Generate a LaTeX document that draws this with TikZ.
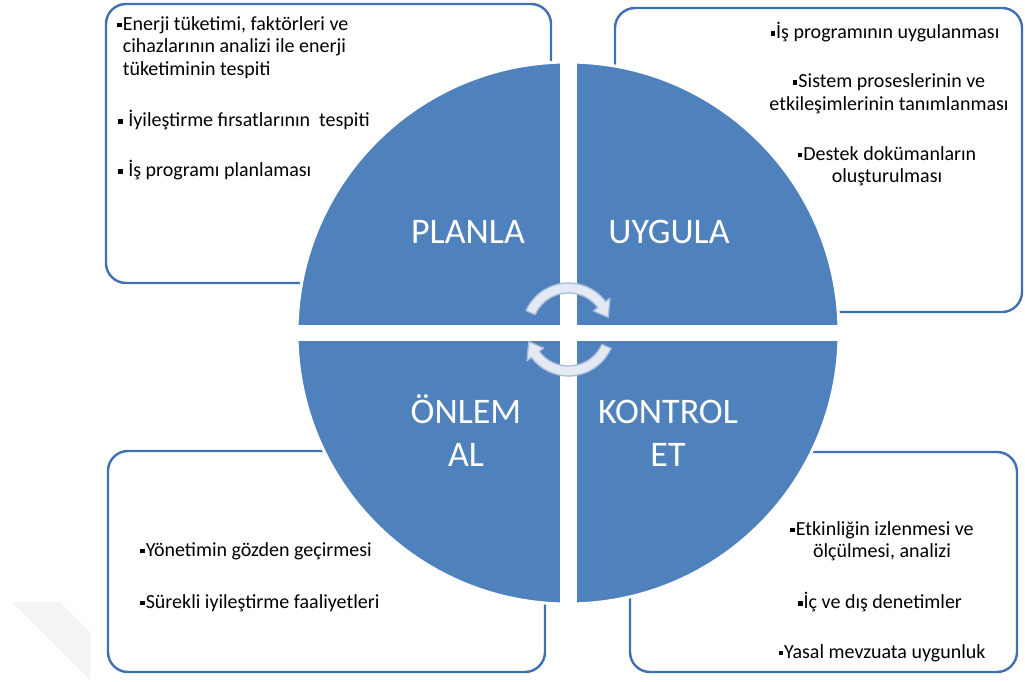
\documentclass[tikz,border=0pt]{standalone}
\usepackage{fontspec}
\setmainfont{Carlito}
\newcommand{\bl}{\raisebox{0.3ex}{\rule{0.22em}{0.22em}}\hspace{0.06em}}
\definecolor{pdcablue}{RGB}{79,129,189}
\definecolor{boxline}{RGB}{64,112,180}
\definecolor{arrfill}{RGB}{228,234,243}
\definecolor{arrline}{RGB}{170,189,216}
\begin{document}
\begin{tikzpicture}[x=1pt,y=1pt,
  infobox/.style={draw=boxline, line width=2.4pt, rounded corners=20pt},
  boxtxt/.style={font=\fontsize{20}{22.5}\selectfont, text=black, inner sep=0pt},
  lbl/.style={font=\fontsize{36}{43}\selectfont, text=white, inner sep=0pt, align=center},
  cyclearrow/.style={fill=arrfill, draw=arrline, line width=1.3pt, line join=round}]
\fill[white] (0,0) rectangle (1025,681);
\useasboundingbox (0,0) rectangle (1025,681);
% faint shadow
\fill[gray!9] (12,79) -- (60,79) -- (90,49) -- (90,1) -- cycle;
% boxes
\draw[infobox] (106,677) rectangle (551,398);
\draw[infobox] (615,673) rectangle (1022,369);
\draw[infobox] (108,230) rectangle (545,9);
\draw[infobox] (630,229) rectangle (1017,9);
% circle
\path[fill=pdcablue, draw=white, line width=3pt] (568,348) circle[radius=271];
\fill[white] (560,70) rectangle (576.5,625);
\fill[white] (290,340.5) rectangle (846,356);
% cycle arrows
\begin{scope}[shift={(568.5,351.5)}]
\draw[cyclearrow] (156:46.5) arc[start angle=156, end angle=37, radius=46.5] -- (37:52) -- (17:41.5) -- (37:31) -- (37:36.5) arc[start angle=37, end angle=156, radius=36.5] -- cycle;
\draw[cyclearrow, rotate=180] (156:46.5) arc[start angle=156, end angle=37, radius=46.5] -- (37:52) -- (17:41.5) -- (37:31) -- (37:36.5) arc[start angle=37, end angle=156, radius=36.5] -- cycle;
\end{scope}
% labels
\node[lbl] (plan) at (468,449) {PLANLA};
\node[lbl] (uyg) at (669,449) {UYGULA};
\node[lbl] (onl) at (466,250.5) {ÖNLEM\\AL};
\node[lbl] (kon) at (668,247.5) {KONTROL\\ET};
% top-left texts
\node[boxtxt, anchor=west, align=left] (pl1) at (117,633.5) {\bl Enerji tüketimi, faktörleri ve\\\phantom{\bl}cihazlarının analizi ile enerji\\\phantom{\bl}tüketiminin tespiti};
\node[boxtxt, anchor=west] (pl2) at (118,561) {\bl\ İyileştirme fırsatlarının\ \ tespiti};
\node[boxtxt, anchor=west] (pl3) at (118,511) {\bl\ İş programı planlaması};
% top-right texts
\node[boxtxt] (uy1) at (885,649) {\bl İş programının uygulanması};
\node[boxtxt, align=center] (uy2) at (889,587.5) {\bl Sistem proseslerinin ve\\etkileşimlerinin tanımlanması};
\node[boxtxt, align=center] (uy3) at (887,515) {\bl Destek dokümanların\\oluşturulması};
% bottom-left texts
\node[boxtxt, anchor=west] (on1) at (140,130) {\bl Yönetimin gözden geçirmesi};
\node[boxtxt, anchor=west] (on2) at (140,78) {\bl Sürekli iyileştirme faaliyetleri};
% bottom-right texts
\node[boxtxt, align=center] (ko1) at (882,140) {\bl Etkinliğin izlenmesi ve\\ölçülmesi, analizi};
\node[boxtxt] (ko2) at (880,79) {\bl İç ve dış denetimler};
\node[boxtxt] (ko3) at (882,28) {\bl Yasal mevzuata uygunluk};
\end{tikzpicture}
\end{document}
